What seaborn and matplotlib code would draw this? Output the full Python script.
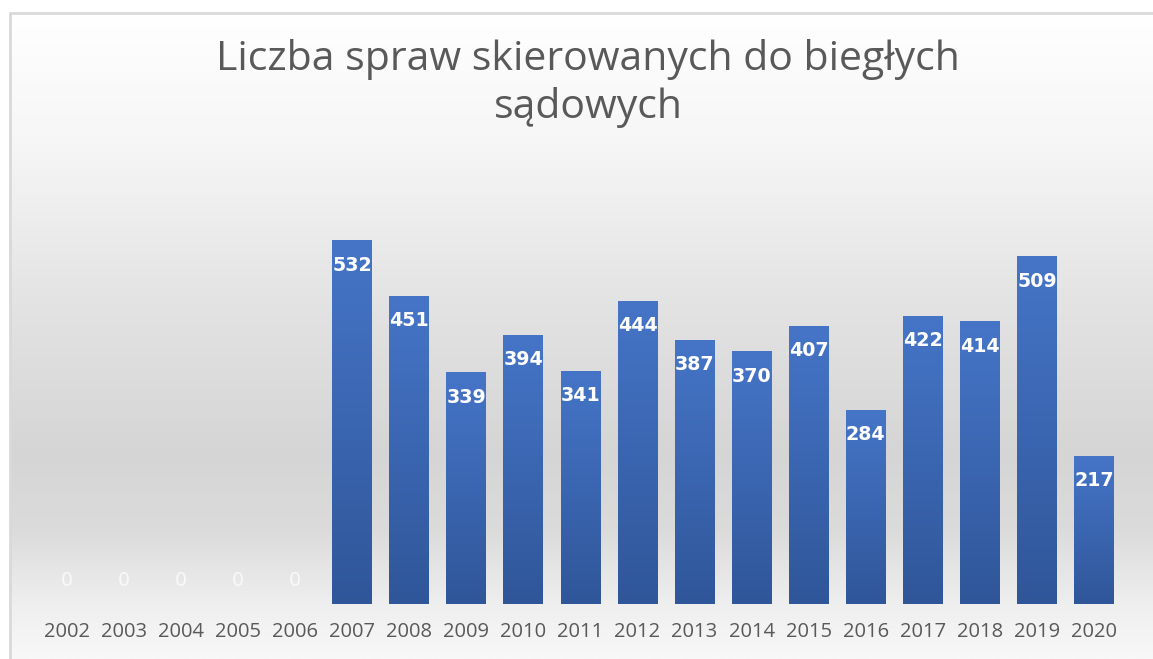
import numpy as np
import pandas as pd
import matplotlib
matplotlib.use("Agg")
import matplotlib.pyplot as plt
import seaborn as sns
from matplotlib.colors import LinearSegmentedColormap

years = [str(y) for y in range(2002, 2021)]
cases = [0, 0, 0, 0, 0, 532, 451, 339, 394, 341, 444, 387, 370, 407, 284, 422, 414, 509, 217]
title = "Liczba spraw skierowanych do biegłych\nsądowych"

W, H = 1153, 659
sns.set_theme(style="white")
plt.rcParams['font.family'] = ['Open Sans', 'DejaVu Sans']

fig = plt.figure(figsize=(W / 100, H / 100), dpi=100)
fig.patch.set_facecolor("white")

# chart area background (grey gradient, white at top)
bg = fig.add_axes([10 / W, 0, 1 - 10 / W, 1 - 13 / H], zorder=0)
bg_cmap = LinearSegmentedColormap.from_list("bg", [
    (0.0, "#ffffff"), (0.2, "#f6f6f6"), (0.45, "#e3e3e3"),
    (0.68, "#d5d5d5"), (0.80, "#dbdbdb"), (0.92, "#efefef"), (1.0, "#f8f8f8")])
bg.imshow(np.linspace(0, 1, 256).reshape(-1, 1), aspect="auto", cmap=bg_cmap,
          extent=[0, 1, 1, 0])
bg.set_xlim(0, 1)
bg.set_ylim(1, 0)
bg.axis("off")
fig.add_artist(plt.Line2D([10 / W, 1], [1 - 13 / H] * 2, color="#d9d9d9", lw=2))
fig.add_artist(plt.Line2D([10 / W] * 2, [0, 1 - 13 / H], color="#d9d9d9", lw=2))

ax = fig.add_axes([38.5 / W, 1 - 604 / H, 1084 / W, 410 / H], zorder=1)
ax.patch.set_alpha(0)
df = pd.DataFrame({"year": years, "cases": cases})
sns.barplot(data=df, x="year", y="cases", color="#4472c4", width=0.7,
            saturation=1, linewidth=0, ax=ax)
ax.set_ylim(0, 600)
ax.set_xlim(-0.5, len(years) - 0.5)

bar_cmap = LinearSegmentedColormap.from_list("bar", ["#2f5699", "#4675c8"])
grad = np.linspace(0, 1, 256).reshape(-1, 1)
for p in ax.patches:
    x0, w, h = p.get_x(), p.get_width(), p.get_height()
    if h <= 0:
        continue
    im = ax.imshow(grad, aspect="auto", cmap=bar_cmap, origin="lower",
                   extent=[x0, x0 + w, 0, h], zorder=2)
    im.set_clip_path(p)

for i, v in enumerate(cases):
    if v > 0:
        ax.annotate(str(v), (i, v), xytext=(0, -18), textcoords="offset points",
                    ha="center", va="center", color="white", fontsize=13.7,
                    fontweight="bold", family="DejaVu Sans", zorder=3)
    else:
        ax.annotate(str(v), (i, v), xytext=(0, 17), textcoords="offset points",
                    ha="center", va="center", color="white", alpha=0.75,
                    fontsize=13.7, family="DejaVu Sans", zorder=3)

ax.set_xlabel("")
ax.set_ylabel("")
ax.set_yticks([])
ax.tick_params(axis="x", length=0, pad=13, labelsize=14.5, labelcolor="#595959")
for s in ax.spines.values():
    s.set_visible(False)

fig.text(588 / W, 1 - 83.5 / H, title, ha="center", va="center",
         fontsize=29.5, color="#595959", linespacing=1.2)

fig.savefig("out.png", dpi=100)
